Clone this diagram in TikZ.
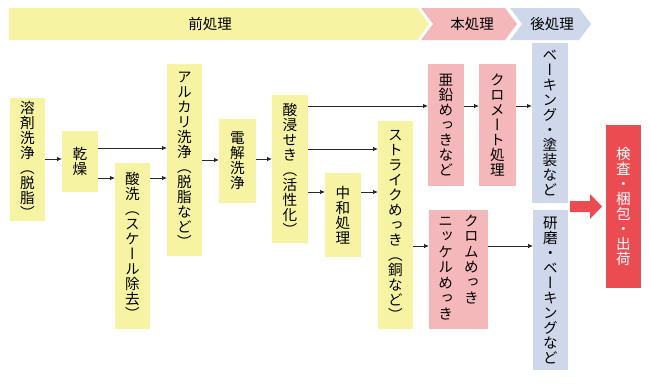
\documentclass[tikz,border=0pt]{standalone}
\usepackage{fontspec}
\usetikzlibrary{arrows.meta}
\newfontfamily\jp[RawFeature=+vert]{Noto Sans CJK JP}
\newfontfamily\jph{Noto Sans CJK JP}
\definecolor{cyel}{HTML}{F6F3A2}
\definecolor{cpink}{HTML}{F4B8BA}
\definecolor{cblue}{HTML}{CFD7EB}
\definecolor{cred}{HTML}{EB4C51}
\definecolor{cline}{HTML}{2A2A2A}
\newcommand\vcol[1]{\begin{tabular}[t]{@{}c@{}}#1\end{tabular}}
\tikzset{
  procbox/.style={rectangle, inner sep=0pt, outer sep=0pt, align=center, anchor=north west,
    font=\jp\fontsize{14.6}{15}\selectfont, text=black},
  yel/.style={procbox, fill=cyel},
  pnk/.style={procbox, fill=cpink},
  blu/.style={procbox, fill=cblue},
  rd/.style={procbox, fill=cred, text=white},
  arr/.style={draw=cline, line width=0.8pt, -{Latex[length=5pt,width=4.5pt]}},
  bantext/.style={font=\jph\fontsize{14.5}{15}\selectfont, text=black, inner sep=0pt}
}
\begin{document}
\begin{tikzpicture}[x=1pt,y=-1pt]
\useasboundingbox[fill=white] (0,0) rectangle (650,383);
% banner
\fill[cyel] (9,8) -- (417,8) -- (429,24) -- (417,40) -- (9,40) -- cycle;
\fill[cpink] (421,8) -- (505,8) -- (517,24) -- (505,40) -- (421,40) -- (433,24) -- cycle;
\fill[cblue] (510,8) -- (579,8) -- (591,24) -- (579,40) -- (510,40) -- (522,24) -- cycle;
\node[bantext] (b1) at (210,24) {前処理};
\node[bantext] (b2) at (472,24) {本処理};
\node[bantext] (b3) at (552,24) {後処理};
% boxes
\node[yel, minimum width=35pt, minimum height=123pt] (yozai) at (10,98) {溶\\剤\\洗\\浄\\（\\脱\\脂\\）};
\node[yel, minimum width=36pt, minimum height=61pt] (kanso) at (62,131) {乾\\燥};
\node[yel, minimum width=35pt, minimum height=166pt] (sansen) at (115,163) {酸\\洗\\（\\ス\\ケ\\ー\\ル\\除\\去\\）};
\node[yel, minimum width=35pt, minimum height=192pt] (alk) at (167,64) {ア\\ル\\カ\\リ\\洗\\浄\\（\\脱\\脂\\な\\ど\\）};
\node[yel, minimum width=37pt, minimum height=84pt] (denkai) at (219,119) {電\\解\\洗\\浄};
\node[yel, minimum width=36pt, minimum height=148pt] (sanshin) at (272,95) {酸\\浸\\せ\\き\\（\\活\\性\\化\\）};
\node[yel, minimum width=36pt, minimum height=84pt] (chuwa) at (325,173) {中\\和\\処\\理};
\node[yel, minimum width=35pt, minimum height=208pt] (strike) at (378,121) {ス\\ト\\ラ\\イ\\ク\\め\\っ\\き\\（\\銅\\な\\ど\\）};
\node[pnk, minimum width=36pt, minimum height=122pt] (aen) at (428,64) {亜\\鉛\\め\\っ\\き\\な\\ど};
\node[pnk, minimum width=37pt, minimum height=122pt] (chromate) at (479,64) {ク\\ロ\\メ\\ー\\ト\\処\\理};
\node[pnk, minimum width=59pt, minimum height=119pt] (chrom) at (429,210) {\vcol{ニ\\ッ\\ケ\\ル\\め\\っ\\き}\hspace{11pt}\vcol{ク\\ロ\\ム\\め\\っ\\き}};
\node[blu, minimum width=36pt, minimum height=160pt] (bake) at (532,43) {ベ\\ー\\キ\\ン\\グ\\・\\塗\\装\\な\\ど};
\node[blu, minimum width=35pt, minimum height=160pt] (kenma) at (533,210) {研\\磨\\・\\ベ\\ー\\キ\\ン\\グ\\な\\ど};
\node[rd, minimum width=35pt, minimum height=163pt] (kensa) at (606,125) {検\\査\\・\\梱\\包\\・\\出\\荷};
% connectors
\draw[arr] (yozai.east |- 0,159) -- (kanso.west |- 0,159);
\draw[arr] (kanso.east |- 0,148) -- (alk.west |- 0,148);
\draw[arr] (kanso.east |- 0,178) -- (sansen.west |- 0,178);
\draw[arr] (sansen.east |- 0,178) -- (alk.west |- 0,178);
\draw[arr] (alk.east |- 0,160) -- (denkai.west |- 0,160);
\draw[arr] (denkai.east |- 0,159) -- (sanshin.west |- 0,159);
\draw[arr] (sanshin.east |- 0,106) -- (aen.west |- 0,106);
\draw[arr] (sanshin.east |- 0,149) -- (strike.west |- 0,149);
\draw[arr] (sanshin.east |- 0,192) -- (chuwa.west |- 0,192);
\draw[arr] (chuwa.east |- 0,192) -- (strike.west |- 0,192);
\draw[arr] (aen.east |- 0,106) -- (chromate.west |- 0,106);
\draw[arr] (chromate.east |- 0,106) -- (bake.west |- 0,106);
\draw[arr] (strike.east |- 0,246) -- (chrom.west |- 0,246);
\draw[arr] (chrom.east |- 0,246) -- (kenma.west |- 0,246);
% big arrow
\fill[cred] (570,201) -- (590,201) -- (590,194) -- (602,206.5) -- (590,219) -- (590,212) -- (570,212) -- cycle;
\end{tikzpicture}
\end{document}
